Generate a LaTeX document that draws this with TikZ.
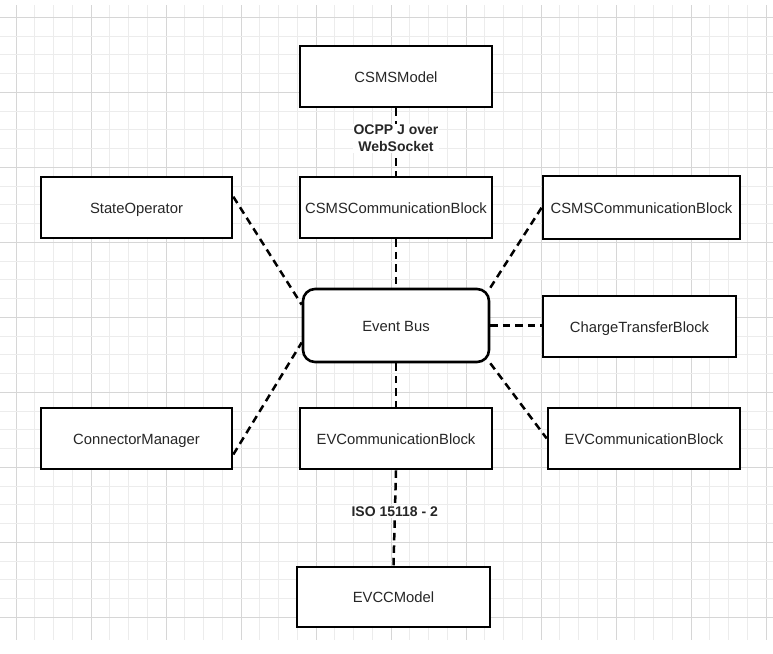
\documentclass[tikz,border=0pt]{standalone}
\usepackage{fontspec}
\setmainfont{Liberation Sans}
\usetikzlibrary{calc}
\definecolor{gridminor}{HTML}{ECECEC}
\definecolor{gridmajor}{HTML}{D6D6D6}
\definecolor{inktext}{HTML}{262626}
\begin{document}
\begin{tikzpicture}[x=1pt,y=-1pt,
  block/.style={draw=black,line width=2.6pt,fill=white,inner sep=0pt,
    minimum width=192pt,minimum height=61pt,text=inktext,
    text height=14pt,text depth=2.4pt,
    font=\fontsize{14.8}{17}\selectfont},
  bus/.style={block,rounded corners=12pt,minimum width=186pt,minimum height=73pt},
  link/.style={draw=black,line width=2.5pt,dash pattern=on 7.5pt off 5pt},
  linklabel/.style={fill=white,inner sep=1pt,align=center,text=inktext,
    font=\fontsize{14}{17}\selectfont\bfseries}]
  \useasboundingbox (0,0) rectangle (773,653);
  \fill[white] (0,0) rectangle (773,653);
  % background grid: minor lines every 18.75, major every 75
  \foreach \k in {0,...,40}{
    \pgfmathtruncatemacro{\m}{mod(\k,4)}
    \ifnum\m=0 \def\gc{gridmajor}\else\def\gc{gridminor}\fi
    \draw[\gc,line width=1pt] (16+18.75*\k,5) -- (16+18.75*\k,640);
  }
  \foreach \k in {0,...,32}{
    \pgfmathtruncatemacro{\m}{mod(\k,4)}
    \ifnum\m=0 \def\gc{gridmajor}\else\def\gc{gridminor}\fi
    \draw[\gc,line width=1pt] (0,17.3+18.75*\k) -- (773,17.3+18.75*\k);
  }

  % blocks
  \node[block] (csmsModel) at (396,76.5) {CSMSModel};
  \node[block] (csmsComm) at (396,207.5) {CSMSCommunicationBlock};
  \node[block,minimum width=191pt] (stateOp) at (136.5,207.5) {StateOperator};
  \node[block,minimum width=197pt,minimum height=63pt] (csmsCommR) at (641.5,207.5) {CSMSCommunicationBlock};
  \node[bus] (eventBus) at (396,325.5) {Event Bus};
  \node[block,minimum width=193pt] (chargeT) at (639.5,326.5) {ChargeTransferBlock};
  \node[block,minimum width=191pt] (connMgr) at (136.5,438.5) {ConnectorManager};
  \node[block] (evComm) at (396,438.5) {EVCommunicationBlock};
  \node[block] (evCommR) at (644,438.5) {EVCommunicationBlock};
  \node[block,minimum width=193pt,minimum height=60pt] (evcc) at (393.5,597) {EVCCModel};

  % attachment points on the sides
  \coordinate (soOut) at ($(stateOp.north east)+(0,21)$);
  \coordinate (busInA) at ($(eventBus.north west)+(0,17)$);
  \coordinate (cmOut) at ($(connMgr.east)+(0,16)$);
  \coordinate (busInB) at ($(eventBus.west)+(0,17)$);

  % connectors
  \draw[link] (csmsModel.south) -- node[linklabel,yshift=3.5pt] {OCPP J over\\WebSocket} (csmsComm.north);
  \draw[link] (csmsComm.south) -- (eventBus.north);
  \draw[link] (soOut) -- (busInA);
  \draw[link] (eventBus.north east) -- (csmsCommR.west);
  \draw[link] (eventBus.east) -- (eventBus.east -| chargeT.west);
  \draw[link] (cmOut) -- (busInB);
  \draw[link] (eventBus.south east) -- (evCommR.west);
  \draw[link] (eventBus.south) -- (evComm.north);
  \draw[link] (evComm.south) -- node[linklabel,yshift=6pt] {ISO 15118 - 2} (evcc.north);
\end{tikzpicture}
\end{document}
